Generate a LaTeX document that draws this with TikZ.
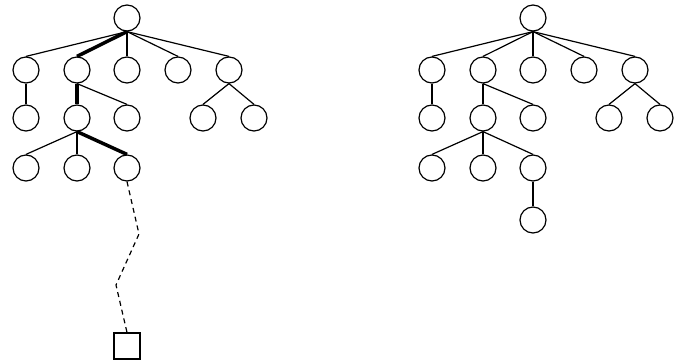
\documentclass[tikz,border=0pt]{standalone}
\usepackage{tikz}
\usetikzlibrary{positioning}
\tikzset{
    vertex/.style={circle, draw, line width=1.2pt, minimum size=26pt, inner sep=0pt},
    goal/.style={rectangle, draw, line width=1.2pt, minimum size=26pt, inner sep=0pt},
    edge/.style={line width=1.2pt},
    trail/.style={line width=3.5pt},
    walk/.style={line width=1.2pt, dash pattern=on 5pt off 4pt}
}

\begin{document}
\begin{tikzpicture}[x=1pt, y=-1pt]
\useasboundingbox (0,0) rectangle (678,364);

% Left tree
\node[vertex] (r) at (127,18) {};
\node[vertex] (a1) at (26,70) {};
\node[vertex] (a2) at (77,70) {};
\node[vertex] (a3) at (127,70) {};
\node[vertex] (a4) at (178,70) {};
\node[vertex] (a5) at (229,70) {};
\node[vertex] (b1) at (26,118) {};
\node[vertex] (b2) at (77,118) {};
\node[vertex] (b3) at (127,118) {};
\node[vertex] (b4) at (203,118) {};
\node[vertex] (b5) at (254,118) {};
\node[vertex] (c1) at (26,168) {};
\node[vertex] (c2) at (77,168) {};
\node[vertex] (c3) at (127,168) {};
\node[goal] (sq) at (127,346) {};

\foreach \x in {a1,a3,a4,a5} \draw[edge] (r.south) -- (\x.north);
\draw[edge] (a1.south) -- (b1.north);
\draw[edge] (a2.south) -- (b3.north);
\draw[edge] (a5.south) -- (b4.north);
\draw[edge] (a5.south) -- (b5.north);
\draw[edge] (b2.south) -- (c1.north);
\draw[edge] (b2.south) -- (c2.north);

% Path taken so far
\draw[trail] (r.south) -- (a2.north);
\draw[trail] (a2.south) -- (b2.north);
\draw[trail] (b2.south) -- (c3.north);

% Unexplored part
\coordinate (w1) at (139,234);
\coordinate (w2) at (116,285);
\draw[walk] (c3.south) -- (w1) -- (w2) -- (sq.north);

% Right tree
\node[vertex] (R) at (533,18) {};
\node[vertex] (A1) at (432,70) {};
\node[vertex] (A2) at (483,70) {};
\node[vertex] (A3) at (533,70) {};
\node[vertex] (A4) at (584,70) {};
\node[vertex] (A5) at (635,70) {};
\node[vertex] (B1) at (432,118) {};
\node[vertex] (B2) at (483,118) {};
\node[vertex] (B3) at (533,118) {};
\node[vertex] (B4) at (609,118) {};
\node[vertex] (B5) at (660,118) {};
\node[vertex] (C1) at (432,168) {};
\node[vertex] (C2) at (483,168) {};
\node[vertex] (C3) at (533,168) {};
\node[vertex] (D1) at (533,220) {};

\foreach \x in {A1,A2,A3,A4,A5} \draw[edge] (R.south) -- (\x.north);
\draw[edge] (A1.south) -- (B1.north);
\draw[edge] (A2.south) -- (B2.north);
\draw[edge] (A2.south) -- (B3.north);
\draw[edge] (A5.south) -- (B4.north);
\draw[edge] (A5.south) -- (B5.north);
\foreach \x in {C1,C2,C3} \draw[edge] (B2.south) -- (\x.north);
\draw[edge] (C3.south) -- (D1.north);

\end{tikzpicture}
\end{document}
